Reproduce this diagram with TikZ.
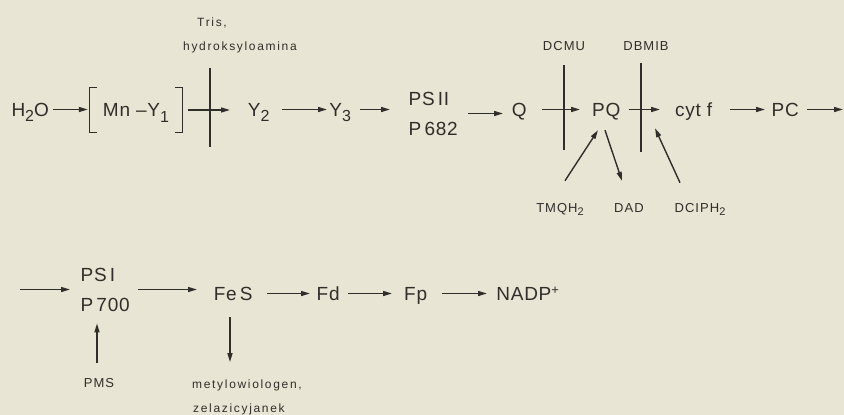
\documentclass[tikz,border=0pt]{standalone}
\usepackage{fontspec}
\setmainfont{Liberation Sans}
\newfontfamily\mainf[LetterSpace=4]{Liberation Sans}
\newfontfamily\smallf[LetterSpace=14]{Liberation Sans}
\newfontfamily\capf[LetterSpace=8]{Liberation Sans}
\usetikzlibrary{arrows.meta,calc}
\definecolor{paper}{HTML}{E9E5D4}
\definecolor{ink}{HTML}{302E2A}
\newcommand{\lowsub}[1]{\raisebox{-5.5pt}{\fontsize{16}{16}\selectfont #1}}
\newcommand{\lowsubs}[1]{\raisebox{-3.5pt}{\fontsize{11}{11}\selectfont #1}}
\begin{document}
\begin{tikzpicture}[x=1pt,y=-1pt,
 every node/.style={inner sep=0pt, text=ink},
 chem/.style={font=\mainf\fontsize{19}{23}\selectfont, text height=13pt, text depth=0pt, anchor=west},
 chemtwo/.style={font=\mainf\fontsize{19}{30}\selectfont, align=left, anchor=west},
 lab/.style={font=\smallf\fontsize{12}{14}\selectfont, anchor=base west},
 labc/.style={font=\capf\fontsize{13}{15}\selectfont, anchor=base},
 arr/.style={draw=ink, line width=1.4pt, -{Triangle[length=9pt,width=5pt]}},
 blk/.style={draw=ink, line width=1.2pt},
]
\fill[paper] (0,0) rectangle (844,415);
\useasboundingbox (0,0) rectangle (844,415);

% row 1
\node[chem, minimum width=40pt] (h2o) at (10,109.5) {H\lowsub{2}O};
\node[chem, minimum width=92pt, minimum height=45pt, anchor=center] (mnb) at (136,110) {Mn –Y\lowsub{1}};
\node[chem, minimum width=23pt] (y2) at (247,109.5) {Y\lowsub{2}};
\node[chem, minimum width=24pt] (y3) at (328,109.5) {Y\lowsub{3}};
\node[chemtwo, minimum width=60pt] (ps2) at (403,113.5) {PS\,II\\P\,682};
\node[chem, minimum width=18pt] (q) at (510,109.5) {Q};
\node[chem, minimum width=28pt] (pq) at (592,109.5) {PQ};
\node[chem, minimum width=43pt] (cyt) at (672,109.5) {cyt f};
\node[chem, minimum width=30pt] (pc) at (770,109.5) {PC};
\coordinate (end1) at (843,109.5);

% row 2
\coordinate (st2) at (20,289.5);
\node[chemtwo, minimum width=54pt] (ps1) at (78,289.5) {PS\,I\\P\,700};
\node[chem, minimum width=50pt] (fes) at (208,293.5) {Fe\,S};
\node[chem, minimum width=30pt] (fd) at (313,293.5) {Fd};
\node[chem, minimum width=35pt] (fp) at (398,293.5) {Fp};
\node[chem, minimum width=79pt] (nadp) at (488,293.5) {NADP\raisebox{6pt}{\fontsize{13}{13}\selectfont +}};

% labels
\node[lab] (tris) at (197,27) {Tris,};
\node[lab] (hydro) at (183,50) {hydroksyloamina};
\node[labc] (dcmu) at (564,50) {DCMU};
\node[labc] (dbmib) at (646,50) {DBMIB};
\node[labc] (tmq) at (560,212) {TMQH\lowsubs{2}};
\node[labc] (dad) at (629,212) {DAD};
\node[labc] (dcip) at (700,212) {DCIPH\lowsubs{2}};
\node[labc] (pms) at (99,387) {PMS};
\node[lab] (mv) at (192,388) {metylowiologen,};
\node[lab] (zc) at (193,412) {zelazicyjanek};

% brackets
\draw[blk] ([xshift=7pt]mnb.north west) -- (mnb.north west) -- (mnb.south west) -- ([xshift=7pt]mnb.south west);
\draw[blk] ([xshift=-7pt]mnb.north east) -- (mnb.north east) -- (mnb.south east) -- ([xshift=-7pt]mnb.south east);

% inhibitor bars
\draw[blk] ($(hydro.base west)+(27,18)$) -- ($(hydro.base west)+(27,97)$);
\draw[blk] ($(dcmu.base)+(0,15)$) -- ($(dcmu.base)+(0,100)$);
\draw[blk] ($(dbmib.base)+(-5,13)$) -- ($(dbmib.base)+(-5,102)$);

% row 1 arrows
\draw[arr, shorten <=3pt, shorten >=2pt] (h2o.east) -- (h2o.east -| mnb.west);
\draw[arr, shorten <=6pt, shorten >=17pt] (mnb.east) -- (mnb.east -| y2.west);
\draw[arr, shorten <=12pt, shorten >=1pt] (y2.east) -- (y2.east -| y3.west);
\draw[arr, shorten <=8pt, shorten >=13pt] (y3.east) -- (y3.east -| ps2.west);
\draw[arr, shorten <=5pt, shorten >=7pt] (ps2.east) -- (ps2.east -| q.west);
\draw[arr, shorten <=14pt, shorten >=12pt] (q.east) -- (q.east -| pq.west);
\draw[arr, shorten <=8pt, shorten >=12pt] (pq.east) -- (pq.east -| cyt.west);
\draw[arr, shorten <=15pt, shorten >=5pt] (cyt.east) -- (cyt.east -| pc.west);
\draw[arr, shorten <=7pt] (pc.east) -- (end1);

% side arrows
\draw[arr] ($(tmq.north)+(5,-22)$) -- ($(pq.south west)+(6,14)$);
\draw[arr] ($(pq.south west)+(13,14)$) -- ($(dad.north)+(-7,-22)$);
\draw[arr] ($(dcip.north)+(-20,-20)$) -- ($(cyt.south west)+(-17,12)$);

% row 2 arrows
\draw[arr, shorten >=8pt] (st2) -- (st2 -| ps1.west);
\draw[arr, shorten <=6pt, shorten >=11pt] (ps1.east) -- (ps1.east -| fes.west);
\draw[arr, shorten <=9pt, shorten >=3pt] (fes.east) -- (fes.east -| fd.west);
\draw[arr, shorten <=5pt, shorten >=6pt] (fd.east) -- (fd.east -| fp.west);
\draw[arr, shorten <=9pt, shorten >=1pt] (fp.east) -- (fp.east -| nadp.west);
\draw[arr] ($(pms.north)+(-2,-15)$) -- ($(ps1.south west)+(19,12)$);
\draw[arr] ($(fes.south west)+(22,17)$) -- ($(mv.north west)+(38,-17)$);
\end{tikzpicture}
\end{document}
